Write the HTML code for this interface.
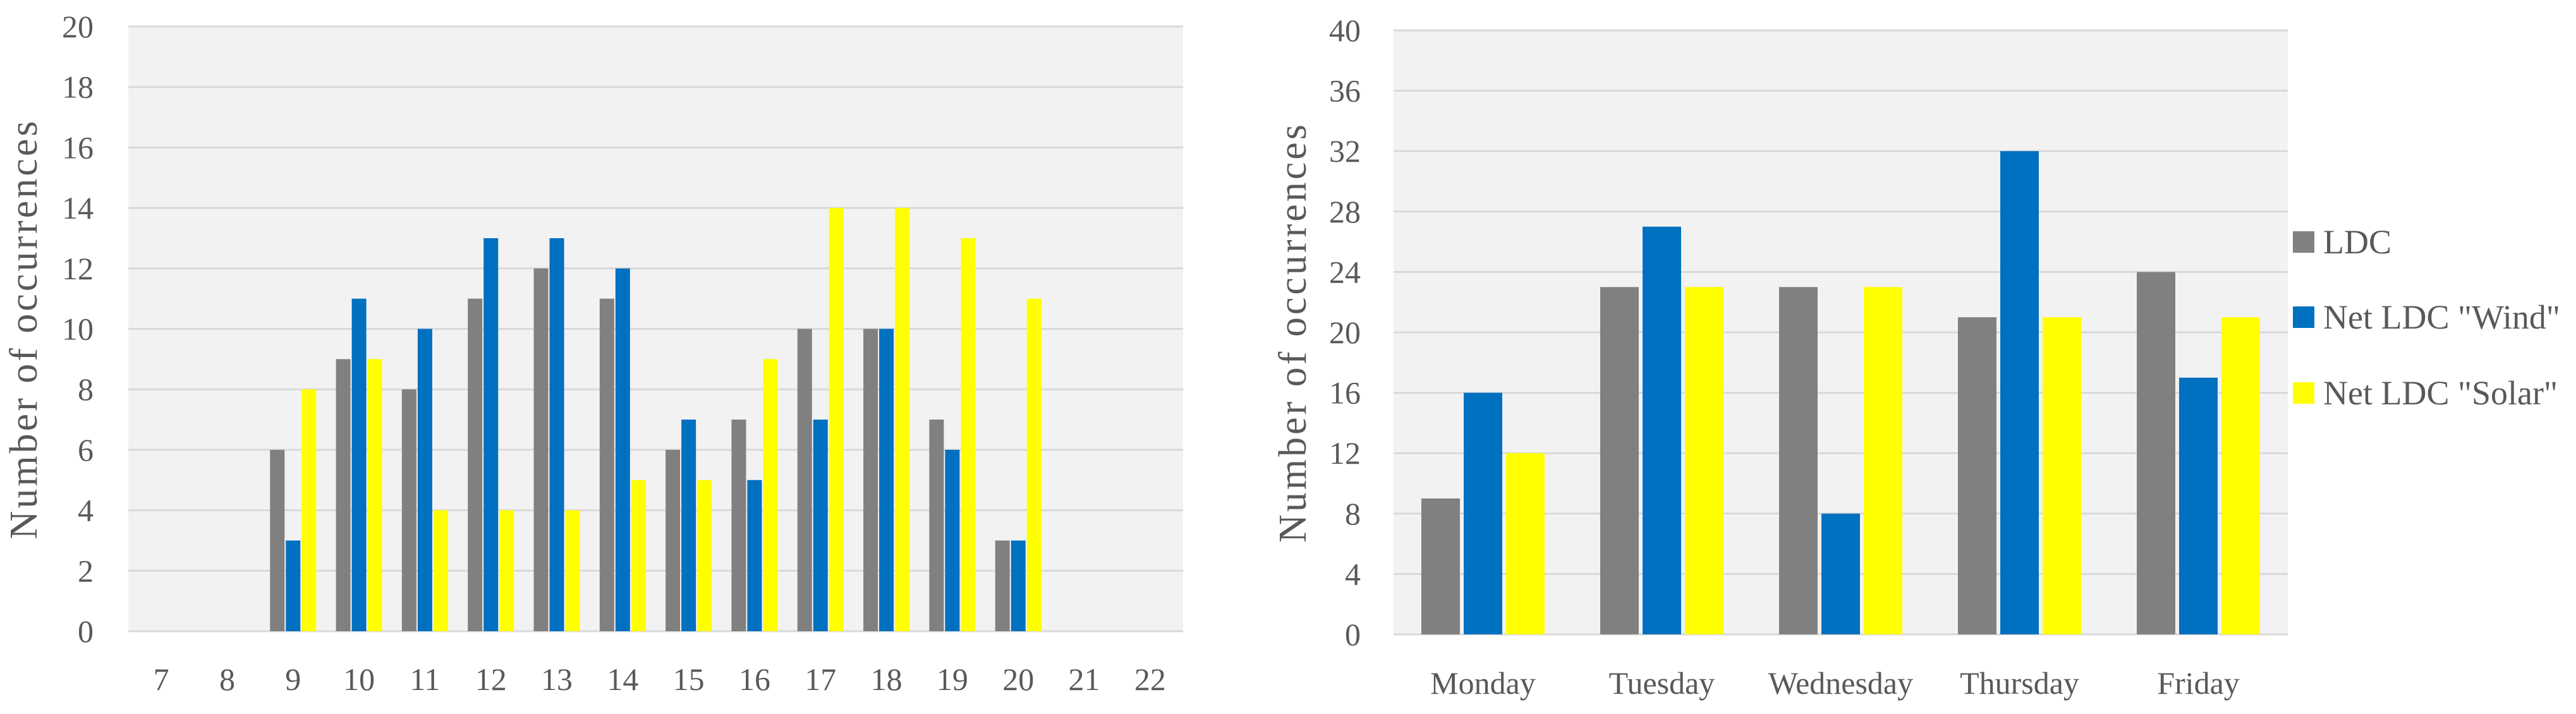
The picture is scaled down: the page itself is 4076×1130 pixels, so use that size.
<!DOCTYPE html>
<html><head><meta charset="utf-8">
<style>
html,body{margin:0;padding:0;background:#fff;}
svg{display:block;font-family:"Liberation Serif",serif;}
</style></head>
<body>
<svg id="chart" width="4076" height="1130" viewBox="0 0 4076 1130" xmlns="http://www.w3.org/2000/svg">
<rect x="0" y="0" width="4076" height="1130" fill="#ffffff"/>
<g id="left"></g>
<g id="right"></g>
<g id="legend"></g>
</svg>
<script>
const hours = ["7","8","9","10","11","12","13","14","15","16","17","18","19","20","21","22"];
const hourLDC   = [0,0,6,9,8,11,12,11,6,7,10,10,7,3,0,0];
const hourWind  = [0,0,3,11,10,13,13,12,7,5,7,10,6,3,0,0];
const hourSolar = [0,0,8,9,4,4,4,5,5,9,14,14,13,11,0,0];
const hourTicks = [0,2,4,6,8,10,12,14,16,18,20];

const days = ["Monday","Tuesday","Wednesday","Thursday","Friday"];
const dayLDC   = [9,23,23,21,24];
const dayWind  = [16,27,8,32,17];
const daySolar = [12,23,23,21,21];
const dayTicks = [0,4,8,12,16,20,24,28,32,36,40];

const seriesNames = ["LDC","Net LDC \"Wind\"","Net LDC \"Solar\""];
const colors = ["#808080","#0070C0","#FFFF00"];
const NS="http://www.w3.org/2000/svg";
function mk(tag,attrs,parent){const e=document.createElementNS(NS,tag);for(const k in attrs)e.setAttribute(k,attrs[k]);parent.appendChild(e);return e;}

function drawChart(g, cfg){
  const {left,right,top,bottom,max,cats,series,ticks,barW,gap,tickX,titleX,labelY,prefix}=cfg;
  const y=v=>bottom-(v/max)*(bottom-top);
  const bg=mk('rect',{x:left,y:top,width:right-left,height:bottom-top,fill:'#F2F2F2'},g);
  
  
  ticks.forEach(t=>{
    const l=mk('line',{x1:left,x2:right,y1:y(t),y2:y(t),stroke:'#D9D9D9','stroke-width':3},g);
    
    
    const tx=mk('text',{x:tickX,y:y(t)+17,'text-anchor':'end','font-size':50,fill:'#595959'},g);
    tx.textContent=t;
    
    
  });
  const cw=(right-left)/cats.length;
  cats.forEach((c,i)=>{
    const cx=left+cw*(i+0.5);
    const groupW=3*barW+2*gap;
    series.forEach((s,j)=>{
      const v=s[i];
      if(v>0){
        const r=mk('rect',{x:cx-groupW/2+j*(barW+gap),y:y(v),width:barW,height:bottom-y(v),fill:colors[j]},g);
        
        
      }
    });
    const tx=mk('text',{x:cx,y:labelY,'text-anchor':'middle','font-size':50,fill:'#595959'},g);
    tx.textContent=c;
    
    
  });
  const ty=(top+bottom)/2;
  const tt=mk('text',{x:titleX,y:ty,'text-anchor':'middle','font-size':62,'letter-spacing':4,fill:'#595959',transform:`rotate(-90 ${titleX} ${ty})`},g);
  tt.textContent="Number of occurrences";
  
  
}

drawChart(document.getElementById('left'),{left:203,right:1872,top:42,bottom:999,max:20,cats:hours,
  series:[hourLDC,hourWind,hourSolar],ticks:hourTicks,barW:23,gap:2,tickX:148,titleX:58,labelY:1092,prefix:'hourly'});
drawChart(document.getElementById('right'),{left:2205,right:3620,top:48,bottom:1004,max:40,cats:days,
  series:[dayLDC,dayWind,daySolar],ticks:dayTicks,barW:61,gap:6,tickX:2153,titleX:2066,labelY:1098,prefix:'weekday'});

const lg=document.getElementById('legend');
const ly=[383,502,622];
seriesNames.forEach((n,i)=>{
  const r=mk('rect',{x:3628,y:ly[i]-17,width:34,height:34,fill:colors[i]},lg);
  
  
  const t=mk('text',{x:3676,y:ly[i]+18,'font-size':54,fill:'#595959'},lg);
  t.textContent=n;
  
  
});
</script>
</body></html>
